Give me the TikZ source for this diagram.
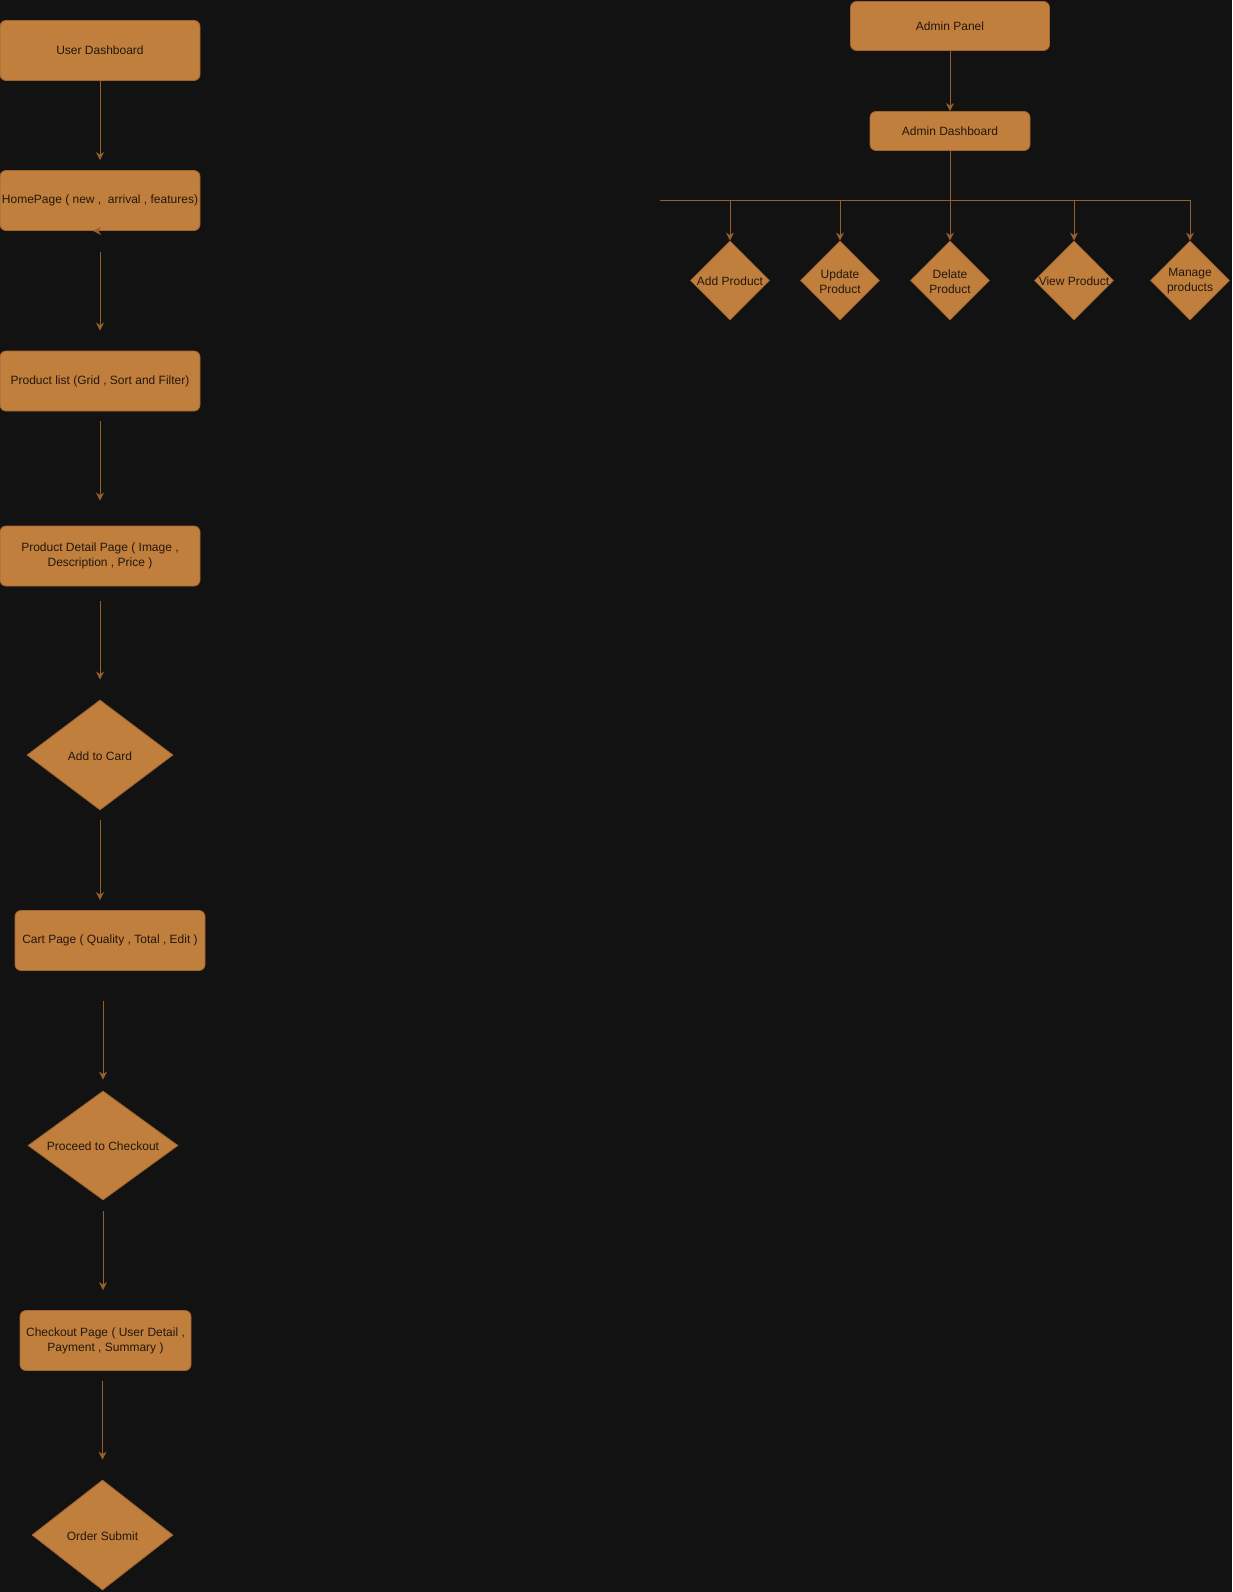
\documentclass[tikz,border=0pt]{standalone}
\usepackage{fontspec}
\setmainfont{Liberation Sans}
\usetikzlibrary{shapes.geometric,arrows.meta}
\definecolor{bg}{HTML}{121212}
\definecolor{boxfill}{HTML}{C17F3E}
\definecolor{boxline}{HTML}{A0652D}
\definecolor{linec}{HTML}{96602D}
\definecolor{txtc}{HTML}{24170B}
\tikzset{
  box/.style={draw=boxline, fill=boxfill, rounded corners=6pt, inner sep=0pt, line width=0.8pt,
    text=txtc, font=\fontsize{12}{15}\selectfont, align=center},
  dia/.style={draw=boxline, fill=boxfill, shape=diamond, inner sep=0pt, line width=0.8pt},
  diatxt/.style={text=txtc, font=\fontsize{12}{15}\selectfont, align=center, yshift=-1pt},
  arr/.style={draw=linec, line width=0.9pt, -{Stealth[length=8pt,width=8pt,inset=2.5pt]}},
  ln/.style={draw=linec, line width=0.9pt}
}
\begin{document}
\begin{tikzpicture}[x=1pt,y=-1pt]
\fill[bg] (0,0) rectangle (1232,1592);
\useasboundingbox (0,0) rectangle (1232,1592);

% user flow
\node[box, minimum width=200pt, minimum height=60pt] (ud) at (100,50.5) {User Dashboard};
\node[box, minimum width=200pt, minimum height=60pt] (hp) at (100,200.5) {HomePage ( new ,\ \ arrival , features)};
\node[box, minimum width=200pt, minimum height=60pt] (pl) at (100,381) {Product list (Grid , Sort and Filter)};
\node[box, minimum width=200pt, minimum height=60pt] (pd) at (100,556) {Product Detail Page ( Image ,\\Description , Price )};
\node[dia, minimum width=146pt, minimum height=110pt, label={[diatxt]center:Add to Card}] (atc) at (100,755) {};
\node[box, minimum width=190pt, minimum height=60pt] (cart) at (110,940.5) {Cart Page ( Quality , Total , Edit )};
\node[dia, minimum width=150pt, minimum height=109pt, label={[diatxt]center:Proceed to Checkout}] (ptc) at (103,1145.5) {};
\node[box, minimum width=171pt, minimum height=60pt] (cp) at (105.5,1340.5) {Checkout Page ( User Detail ,\\Payment , Summary )};
\node[dia, minimum width=141pt, minimum height=110pt, label={[diatxt]center:Order Submit}] (os) at (102.5,1535) {};

\draw[arr, shorten >=10pt] (ud.south) -- (ud.south |- hp.north);
\draw[arr] ([xshift=-2pt]hp.south) -- ([xshift=-7pt]hp.south);
\draw[arr, shorten <=21pt, shorten >=20pt] (hp.south) -- (hp.south |- pl.north);
\draw[arr, shorten <=10pt, shorten >=25pt] (pl.south) -- (pl.south |- pd.north);
\draw[arr, shorten <=15pt, shorten >=20pt] (pd.south) -- (pd.south |- atc.north);
\draw[arr, shorten <=10pt, shorten >=10pt] (atc.south) -- (atc.south |- cart.north);
\draw[arr, shorten <=30pt, shorten >=11pt] (cart.south -| ptc.north) -- (ptc.north);
\draw[arr, shorten <=11pt, shorten >=20pt] (ptc.south) -- (ptc.south |- cp.north);
\draw[arr, shorten <=10pt, shorten >=20pt] (cp.south -| os.north) -- (os.north);

% admin flow
\node[box, minimum width=199pt, minimum height=49pt] (ap) at (950,26) {Admin Panel};
\node[box, minimum width=160pt, minimum height=39pt] (adb) at (950,131) {Admin Dashboard};
\draw[arr] (ap.south) -- (adb.north);

\node[dia, minimum width=79pt, minimum height=79pt, label={[diatxt]center:Add Product}] (addp) at (730,280.5) {};
\node[dia, minimum width=79pt, minimum height=79pt, label={[diatxt]center:Update\\Product}] (upd) at (840,280.5) {};
\node[dia, minimum width=79pt, minimum height=79pt, label={[diatxt]center:Delate\\Product}] (del) at (950,280.5) {};
\node[dia, minimum width=79pt, minimum height=79pt, label={[diatxt]center:View Product}] (view) at (1074,280.5) {};
\node[dia, minimum width=79pt, minimum height=79pt, label={[diatxt]center:Manage\\products}] (man) at (1190,280.5) {};

\coordinate (busL) at (660,200);
\coordinate (busR) at (1190,200);
\draw[ln] (busL) -- (busR);
\draw[arr] (adb.south) -- (del.north);
\draw[arr] (addp.north |- busL) -- (addp.north);
\draw[arr] (upd.north |- busL) -- (upd.north);
\draw[arr] (view.north |- busL) -- (view.north);
\draw[arr] (man.north |- busL) -- (man.north);
\end{tikzpicture}
\end{document}
